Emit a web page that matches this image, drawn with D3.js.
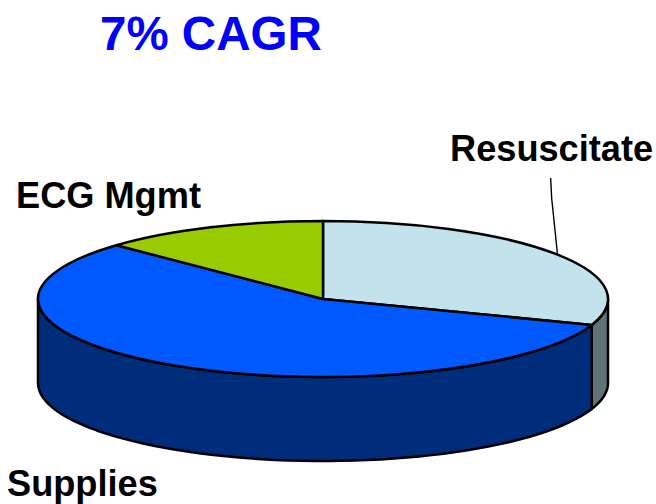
<!DOCTYPE html>
<meta charset="utf-8">
<style>
body { margin: 0; background: #fff; }
text { font-family: "Liberation Sans", Arial, sans-serif; font-weight: bold; fill: #000; }
.title { font-size: 47.5px; fill: #0000ff; }
.label { font-size: 36.2px; }
.slice, .wall { stroke: #000; stroke-width: 2.5px; stroke-linejoin: round; vector-effect: non-scaling-stroke; }
.leader { fill: none; stroke: #000; stroke-width: 1.4px; }
</style>
<svg width="656" height="504"></svg>
<script src="https://cdnjs.cloudflare.com/ajax/libs/d3/7.8.5/d3.min.js"></script>
<script>
var categories = ["Resuscitate", "Supplies", "ECG Mgmt"];
var shares = [30.4, 56.7, 12.9];
var topColors = ["#c2e3ec", "#0059ff", "#99cc00"];
var wallColors = ["#5f7378", "#002c7c", "#4d6600"];
var titleText = "7% CAGR";

var svg = d3.select("svg");

var cx = 323, cy = 299, rx = 285, ry = 78, depth = 84;

var pie = d3.pie().sort(null).value(function(d) { return d; });
var slices = pie(shares);

// point on the rim, angle is clockwise from 12 o'clock like d3.pie
function rim(a, dy) {
  return [cx + rx * Math.sin(a), cy - ry * Math.cos(a) + (dy || 0)];
}

// front walls: only the part of each slice between 3 and 9 o'clock shows
var line = d3.line();
function wallPath(d) {
  var a0 = Math.max(d.startAngle, Math.PI / 2),
      a1 = Math.min(d.endAngle, Math.PI * 1.5);
  if (a1 <= a0) return null;
  var steps = d3.range(0, 61).map(function(i) { return a0 + (a1 - a0) * i / 60; });
  var front = steps.map(function(a) { return rim(a, 0); });
  var back = steps.slice().reverse().map(function(a) { return rim(a, depth); });
  return line(front.concat(back)) + "Z";
}

svg.selectAll(".wall")
    .data(slices)
  .enter().append("path")
    .attr("class", "wall")
    .attr("d", wallPath)
    .style("fill", function(d, i) { return wallColors[i]; });

var arc = d3.arc().innerRadius(0).outerRadius(rx);

svg.append("g")
    .attr("transform", "translate(" + cx + "," + cy + ") scale(1," + (ry / rx) + ")")
  .selectAll(".slice")
    .data(slices)
  .enter().append("path")
    .attr("class", "slice")
    .attr("d", arc)
    .style("fill", function(d, i) { return topColors[i]; });

// leader for Resuscitate starts from the slice's mid angle on the rim
var anchor = rim((slices[0].startAngle + slices[0].endAngle) / 2);
svg.append("path")
    .attr("class", "leader")
    .attr("d", line([[anchor[0] + 2, anchor[1] + 2], [anchor[0] - 4, anchor[1] - 56], [anchor[0] - 5, anchor[1] - 76]]));

svg.append("text").attr("class", "title").attr("x", 100).attr("y", 50).text(titleText);
svg.append("text").attr("class", "label").attr("x", 450).attr("y", 161).text(categories[0]);
svg.append("text").attr("class", "label").attr("x", 16).attr("y", 208).text(categories[2]);
svg.append("text").attr("class", "label").attr("x", 7).attr("y", 495.5).text(categories[1]);
</script>
